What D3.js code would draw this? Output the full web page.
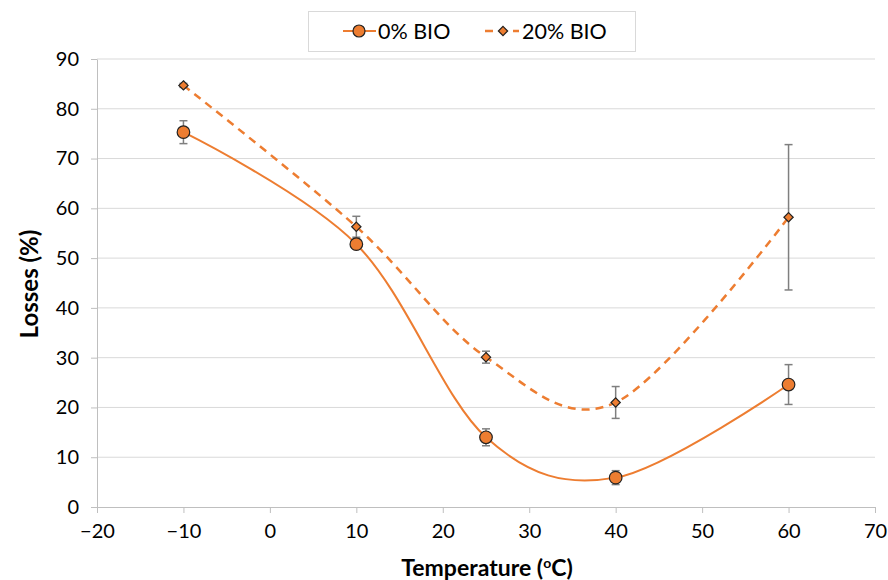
<!DOCTYPE html>
<html>
<head>
<meta charset="utf-8">
<script src="https://cdn.jsdelivr.net/npm/d3@7"></script>
<style>
  body { margin: 0; background: #fff; }
  text { font-family: Lato, "Open Sans", sans-serif; fill: #000; }
</style>
</head>
<body>
<div id="chart"></div>
<script>
(function() {
    // data
    var temps = [-10, 10, 25, 40, 60];
    var bio0 = [75.3, 52.8, 14.0, 5.9, 24.6];
    var bio0Err = [2.3, 1.0, 1.7, 1.4, 4.0];
    var bio20 = [84.7, 56.3, 30.1, 21.0, 58.2];
    var bio20Err = [0.4, 2.1, 1.2, 3.2, 14.6];
    var xTicks = [-20, -10, 0, 10, 20, 30, 40, 50, 60, 70];
    var yTicks = [0, 10, 20, 30, 40, 50, 60, 70, 80, 90];

    var W = 888, H = 580;
    var margin = {top: 59, right: 13, bottom: 73, left: 97};
    var width = W - margin.left - margin.right;
    var height = H - margin.top - margin.bottom;

    var orange = "#ED7D31";

    var svg = d3.select("#chart").append("svg")
        .attr("width", W)
        .attr("height", H);

    var g = svg.append("g")
        .attr("transform", "translate(" + margin.left + "," + margin.top + ")");

    var x = d3.scaleLinear().domain([-20, 70]).range([0, width]);
    var y = d3.scaleLinear().domain([0, 90]).range([height, 0]);

    // gridlines
    g.selectAll(".grid").data(yTicks.slice(1))
        .enter().append("line")
        .attr("x1", 0).attr("x2", width)
        .attr("y1", d => y(d)).attr("y2", d => y(d))
        .attr("stroke", "#d9d9d9").attr("stroke-width", 1);

    var fmt = d => d < 0 ? "\u2212" + Math.abs(d) : String(d);

    var xAxis = g.append("g")
        .attr("transform", "translate(0," + height + ")")
        .call(d3.axisBottom(x).tickValues(xTicks).tickFormat(fmt).tickSize(6).tickSizeOuter(0).tickPadding(11));
    var yAxis = g.append("g")
        .call(d3.axisLeft(y).tickValues(yTicks).tickSize(6).tickSizeOuter(0).tickPadding(12));

    [xAxis, yAxis].forEach(function(a) {
        a.select(".domain").attr("stroke", "#bfbfbf");
        a.selectAll(".tick line").attr("stroke", "#bfbfbf");
        a.selectAll(".tick text").style("font-size", "20px").attr("fill", "#000");
    });

    var xy0 = temps.map((t, i) => [t, bio0[i]]);
    var xy20 = temps.map((t, i) => [t, bio20[i]]);

    var line = d3.line()
        .x(d => x(d[0]))
        .y(d => y(d[1]))
        .curve(d3.curveCatmullRom.alpha(0));

    g.append("path").datum(xy0)
        .attr("d", line)
        .attr("fill", "none")
        .attr("stroke", orange)
        .attr("stroke-width", 2);

    g.append("path").datum(xy20)
        .attr("d", line)
        .attr("fill", "none")
        .attr("stroke", orange)
        .attr("stroke-width", 2.5)
        .attr("stroke-dasharray", "8,6");

    // error bars
    function errorBars(vals, errs) {
        var eb = g.append("g");
        temps.forEach(function(t, i) {
            var cx = x(t), y1 = y(vals[i] + errs[i]), y2 = y(vals[i] - errs[i]);
            eb.append("line").attr("x1", cx).attr("x2", cx).attr("y1", y1).attr("y2", y2);
            eb.append("line").attr("x1", cx - 4).attr("x2", cx + 4).attr("y1", y1).attr("y2", y1);
            eb.append("line").attr("x1", cx - 4).attr("x2", cx + 4).attr("y1", y2).attr("y2", y2);
        });
        eb.selectAll("line").attr("stroke", "#7f7f7f").attr("stroke-width", 1.5);
    }
    errorBars(bio0, bio0Err);
    errorBars(bio20, bio20Err);

    // markers
    g.selectAll(".m0").data(xy0).enter().append("circle")
        .attr("cx", d => x(d[0])).attr("cy", d => y(d[1]))
        .attr("r", 6.3)
        .attr("fill", orange).attr("stroke", "#222").attr("stroke-width", 1.2);

    var diamond = d3.symbol().type(d3.symbolDiamond2).size(55);
    g.selectAll(".m20").data(xy20).enter().append("path")
        .attr("d", diamond)
        .attr("transform", d => "translate(" + x(d[0]) + "," + y(d[1]) + ")")
        .attr("fill", orange).attr("stroke", "#222").attr("stroke-width", 1.2);

    // axis titles
    svg.append("text")
        .attr("x", 487)
        .attr("y", 576)
        .attr("text-anchor", "middle")
        .style("font-size", "23px").style("font-weight", "bold")
        .html('Temperature (<tspan dy="-8" font-size="14px">o</tspan><tspan dy="8">C)</tspan>');

    svg.append("text")
        .attr("transform", "translate(38,284) rotate(-90)")
        .attr("text-anchor", "middle")
        .style("font-size", "24px").style("font-weight", "bold")
        .text("Losses (%)");

    // legend
    var leg = svg.append("g");
    leg.append("rect")
        .attr("x", 308.5).attr("y", 11.5).attr("width", 327).attr("height", 40)
        .attr("fill", "#fff").attr("stroke", "#d9d9d9");

    leg.append("line").attr("x1", 343).attr("x2", 376).attr("y1", 31).attr("y2", 31)
        .attr("stroke", orange).attr("stroke-width", 2);
    leg.append("circle").attr("cx", 359).attr("cy", 31).attr("r", 6)
        .attr("fill", orange).attr("stroke", "#222").attr("stroke-width", 1.2);
    leg.append("text").attr("x", 378).attr("y", 38.5).style("font-size", "21.5px").text("0% BIO");

    leg.append("line").attr("x1", 485).attr("x2", 519).attr("y1", 31).attr("y2", 31)
        .attr("stroke", orange).attr("stroke-width", 2.5).attr("stroke-dasharray", "8,6");
    leg.append("path").attr("d", diamond).attr("transform", "translate(503,31)")
        .attr("fill", orange).attr("stroke", "#222").attr("stroke-width", 1.2);
    leg.append("text").attr("x", 522).attr("y", 38.5).style("font-size", "21.5px").text("20% BIO");
})();
</script>
</body>
</html>
